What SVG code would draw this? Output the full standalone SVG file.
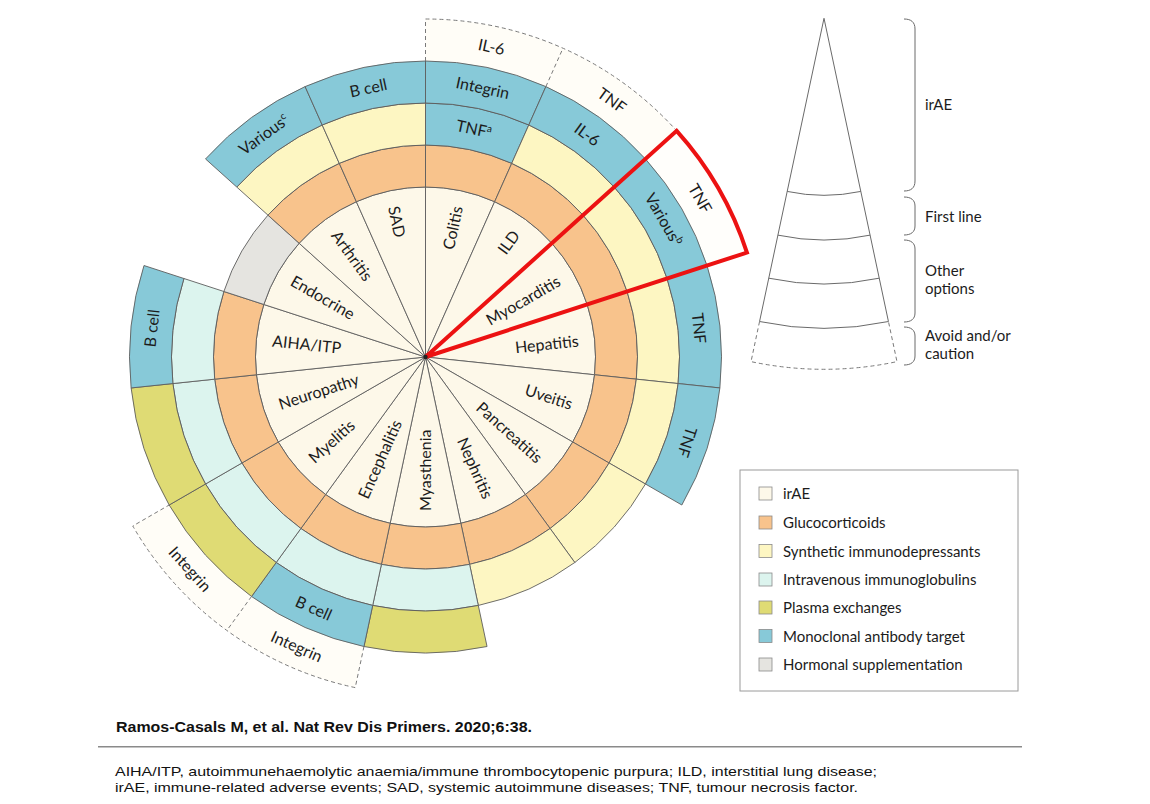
<svg xmlns="http://www.w3.org/2000/svg" width="1150" height="804" viewBox="0 0 1150 804">
<style>
.s{stroke:#5e5e5e;stroke-width:0.9;stroke-linejoin:round}
.cr{fill:#fdf8e9}.or{fill:#f8c38c}.ye{fill:#fdf6c2}.cy{fill:#dcf4ee}.ol{fill:#dfdb74}.bl{fill:#87c9d8}.gr{fill:#e5e4e0}
.df{fill:#fffdf7;stroke:none}
.dl{fill:none;stroke:#7a7a7a;stroke-width:1;stroke-dasharray:4 3}
.t{font-family:Lato,'Open Sans','Liberation Sans',sans-serif;font-size:16px;fill:#1c1c1c}
.m{text-anchor:middle}.e{text-anchor:end}
.lg{font-family:Lato,'Open Sans','Liberation Sans',sans-serif;font-size:15px;fill:#1c1c1c}
.sup{font-size:10px}
.ln{fill:none;stroke:#6a6a6a;stroke-width:1}
.ft{font-family:'Liberation Sans',Arial,sans-serif;fill:#111}
</style>
<rect width="1150" height="804" fill="#ffffff"/>

<g id="wheel">
<g id="colitis">
<path class="df" d="M425.5,61 L425.5,19 A338,338 0 0 1 562.98,48.22 L545.89,86.59 A296,296 0 0 0 425.5,61 Z"/>
<path class="s cr" d="M425.5,357 L425.5,187 A170,170 0 0 1 494.65,201.70 Z"/>
<path class="s or" d="M425.5,187 L425.5,145 A212,212 0 0 1 511.73,163.33 L494.65,201.70 A170,170 0 0 0 425.5,187 Z"/>
<path class="s bl" d="M425.5,145 L425.5,103 A254,254 0 0 1 528.81,124.96 L511.73,163.33 A212,212 0 0 0 425.5,145 Z"/>
<path class="s bl" d="M425.5,103 L425.5,61 A296,296 0 0 1 545.89,86.59 L528.81,124.96 A254,254 0 0 0 425.5,103 Z"/>
<text class="t e" transform="translate(457.52,206.36) rotate(-78)" dy="0.35em">Colitis</text>
<text class="t m" transform="translate(473.94,129.09) rotate(12)" dy="0.35em">TNF<tspan class="sup" dy="-6">a</tspan></text>
<text class="t m" transform="translate(482.68,88.01) rotate(12)" dy="0.35em">Integrin</text>
<text class="t m" transform="translate(491.41,46.93) rotate(12)" dy="0.35em">IL-6</text>
</g>
<g id="ild">
<path class="df" d="M545.89,86.59 L562.98,48.22 A338,338 0 0 1 676.68,130.83 L645.47,158.94 A296,296 0 0 0 545.89,86.59 Z"/>
<path class="s cr" d="M425.5,357 L494.65,201.70 A170,170 0 0 1 551.83,243.25 Z"/>
<path class="s or" d="M494.65,201.70 L511.73,163.33 A212,212 0 0 1 583.05,215.14 L551.83,243.25 A170,170 0 0 0 494.65,201.70 Z"/>
<path class="s ye" d="M511.73,163.33 L528.81,124.96 A254,254 0 0 1 614.26,187.04 L583.05,215.14 A212,212 0 0 0 511.73,163.33 Z"/>
<path class="s bl" d="M528.81,124.96 L545.89,86.59 A296,296 0 0 1 645.47,158.94 L614.26,187.04 A254,254 0 0 0 528.81,124.96 Z"/>
<text class="t e" transform="translate(516.02,232.41) rotate(-54)" dy="0.35em">ILD</text>
<text class="t m" transform="translate(587.14,134.52) rotate(36)" dy="0.35em">IL-6</text>
<text class="t m" transform="translate(611.83,100.54) rotate(36)" dy="0.35em">TNF</text>
</g>
<g id="myocarditis">
<path d="M645.47,158.94 L676.68,130.83 A338,338 0 0 1 746.96,252.55 L707.01,265.53 A296,296 0 0 0 645.47,158.94 Z" fill="#fffefb"/>
<path class="s cr" d="M425.5,357 L551.83,243.25 A170,170 0 0 1 587.18,304.47 Z"/>
<path class="s or" d="M551.83,243.25 L583.05,215.14 A212,212 0 0 1 627.12,291.49 L587.18,304.47 A170,170 0 0 0 551.83,243.25 Z"/>
<path class="s ye" d="M583.05,215.14 L614.26,187.04 A254,254 0 0 1 667.07,278.51 L627.12,291.49 A212,212 0 0 0 583.05,215.14 Z"/>
<path class="s bl" d="M614.26,187.04 L645.47,158.94 A296,296 0 0 1 707.01,265.53 L667.07,278.51 A254,254 0 0 0 614.26,187.04 Z"/>
<text class="t e" transform="translate(558.87,280) rotate(-30)" dy="0.35em">Myocarditis</text>
<text class="t m" transform="translate(663.66,219.5) rotate(60)" dy="0.35em">Various<tspan class="sup" dy="-6">b</tspan></text>
<text class="t m" transform="translate(700.03,198.5) rotate(60)" dy="0.35em">TNF</text>
</g>
<g id="hepatitis">
<path class="s cr" d="M425.5,357 L587.18,304.47 A170,170 0 0 1 594.57,374.77 Z"/>
<path class="s or" d="M587.18,304.47 L627.12,291.49 A212,212 0 0 1 636.34,379.16 L594.57,374.77 A170,170 0 0 0 587.18,304.47 Z"/>
<path class="s ye" d="M627.12,291.49 L667.07,278.51 A254,254 0 0 1 678.11,383.55 L636.34,379.16 A212,212 0 0 0 627.12,291.49 Z"/>
<path class="s bl" d="M667.07,278.51 L707.01,265.53 A296,296 0 0 1 719.88,387.94 L678.11,383.55 A254,254 0 0 0 667.07,278.51 Z"/>
<text class="t e" transform="translate(578.66,340.90) rotate(-6)" dy="0.35em">Hepatitis</text>
<text class="t m" transform="translate(698.99,328.25) rotate(84)" dy="0.35em">TNF</text>
</g>
<g id="uveitis">
<path class="s cr" d="M425.5,357 L594.57,374.77 A170,170 0 0 1 572.72,442 Z"/>
<path class="s or" d="M594.57,374.77 L636.34,379.16 A212,212 0 0 1 609.10,463 L572.72,442 A170,170 0 0 0 594.57,374.77 Z"/>
<path class="s ye" d="M636.34,379.16 L678.11,383.55 A254,254 0 0 1 645.47,484 L609.10,463 A212,212 0 0 0 636.34,379.16 Z"/>
<path class="s bl" d="M678.11,383.55 L719.88,387.94 A296,296 0 0 1 681.84,505 L645.47,484 A254,254 0 0 0 678.11,383.55 Z"/>
<text class="t e" transform="translate(571.96,404.59) rotate(18)" dy="0.35em">Uveitis</text>
<text class="t m" transform="translate(687.04,441.98) rotate(108)" dy="0.35em">TNF</text>
</g>
<g id="pancreatitis">
<path class="s cr" d="M425.5,357 L572.72,442 A170,170 0 0 1 525.42,494.53 Z"/>
<path class="s or" d="M572.72,442 L609.10,463 A212,212 0 0 1 550.11,528.51 L525.42,494.53 A170,170 0 0 0 572.72,442 Z"/>
<path class="s ye" d="M609.10,463 L645.47,484 A254,254 0 0 1 574.80,562.49 L550.11,528.51 A212,212 0 0 0 609.10,463 Z"/>
<text class="t e" transform="translate(539.94,460.05) rotate(42)" dy="0.35em">Pancreatitis</text>
</g>
<g id="nephritis">
<path class="s cr" d="M425.5,357 L525.42,494.53 A170,170 0 0 1 460.85,523.29 Z"/>
<path class="s or" d="M525.42,494.53 L550.11,528.51 A212,212 0 0 1 469.58,564.37 L460.85,523.29 A170,170 0 0 0 525.42,494.53 Z"/>
<path class="s ye" d="M550.11,528.51 L574.80,562.49 A254,254 0 0 1 478.31,605.45 L469.58,564.37 A212,212 0 0 0 550.11,528.51 Z"/>
<text class="t e" transform="translate(488.14,497.69) rotate(66)" dy="0.35em">Nephritis</text>
</g>
<g id="myasthenia">
<path class="s cr" d="M425.5,357 L460.85,523.29 A170,170 0 0 1 390.15,523.29 Z"/>
<path class="s or" d="M460.85,523.29 L469.58,564.37 A212,212 0 0 1 381.42,564.37 L390.15,523.29 A170,170 0 0 0 460.85,523.29 Z"/>
<path class="s cy" d="M469.58,564.37 L478.31,605.45 A254,254 0 0 1 372.69,605.45 L381.42,564.37 A212,212 0 0 0 469.58,564.37 Z"/>
<path class="s ol" d="M478.31,605.45 L487.04,646.53 A296,296 0 0 1 363.96,646.53 L372.69,605.45 A254,254 0 0 0 478.31,605.45 Z"/>
<text class="t" transform="translate(425.5,511) rotate(-90)" dy="0.35em">Myasthenia</text>
</g>
<g id="encephalitis">
<path class="df" d="M363.96,646.53 L355.23,687.61 A338,338 0 0 1 226.83,630.45 L251.52,596.47 A296,296 0 0 0 363.96,646.53 Z"/>
<path class="s cr" d="M425.5,357 L390.15,523.29 A170,170 0 0 1 325.58,494.53 Z"/>
<path class="s or" d="M390.15,523.29 L381.42,564.37 A212,212 0 0 1 300.89,528.51 L325.58,494.53 A170,170 0 0 0 390.15,523.29 Z"/>
<path class="s cy" d="M381.42,564.37 L372.69,605.45 A254,254 0 0 1 276.20,562.49 L300.89,528.51 A212,212 0 0 0 381.42,564.37 Z"/>
<path class="s bl" d="M372.69,605.45 L363.96,646.53 A296,296 0 0 1 251.52,596.47 L276.20,562.49 A254,254 0 0 0 372.69,605.45 Z"/>
<text class="t" transform="translate(362.86,497.69) rotate(-66)" dy="0.35em">Encephalitis</text>
<text class="t m" transform="translate(313.65,608.22) rotate(24)" dy="0.35em">B cell</text>
<text class="t m" transform="translate(296.56,646.59) rotate(24)" dy="0.35em">Integrin</text>
</g>
<g id="myelitis">
<path class="df" d="M251.52,596.47 L226.83,630.45 A338,338 0 0 1 132.78,526 L169.16,505 A296,296 0 0 0 251.52,596.47 Z"/>
<path class="s cr" d="M425.5,357 L325.58,494.53 A170,170 0 0 1 278.28,442 Z"/>
<path class="s or" d="M325.58,494.53 L300.89,528.51 A212,212 0 0 1 241.90,463 L278.28,442 A170,170 0 0 0 325.58,494.53 Z"/>
<path class="s cy" d="M300.89,528.51 L276.20,562.49 A254,254 0 0 1 205.53,484 L241.90,463 A212,212 0 0 0 300.89,528.51 Z"/>
<path class="s ol" d="M276.20,562.49 L251.52,596.47 A296,296 0 0 1 169.16,505 L205.53,484 A254,254 0 0 0 276.20,562.49 Z"/>
<text class="t" transform="translate(311.06,460.05) rotate(-42)" dy="0.35em">Myelitis</text>
<text class="t m" transform="translate(189.92,569.11) rotate(48)" dy="0.35em">Integrin</text>
</g>
<g id="neuropathy">
<path class="s cr" d="M425.5,357 L278.28,442 A170,170 0 0 1 256.43,374.77 Z"/>
<path class="s or" d="M278.28,442 L241.90,463 A212,212 0 0 1 214.66,379.16 L256.43,374.77 A170,170 0 0 0 278.28,442 Z"/>
<path class="s cy" d="M241.90,463 L205.53,484 A254,254 0 0 1 172.89,383.55 L214.66,379.16 A212,212 0 0 0 241.90,463 Z"/>
<path class="s ol" d="M205.53,484 L169.16,505 A296,296 0 0 1 131.12,387.94 L172.89,383.55 A254,254 0 0 0 205.53,484 Z"/>
<text class="t" transform="translate(279.04,404.59) rotate(-18)" dy="0.35em">Neuropathy</text>
</g>
<g id="aiha-itp">
<path class="s cr" d="M425.5,357 L256.43,374.77 A170,170 0 0 1 263.82,304.47 Z"/>
<path class="s or" d="M256.43,374.77 L214.66,379.16 A212,212 0 0 1 223.88,291.49 L263.82,304.47 A170,170 0 0 0 256.43,374.77 Z"/>
<path class="s cy" d="M214.66,379.16 L172.89,383.55 A254,254 0 0 1 183.93,278.51 L223.88,291.49 A212,212 0 0 0 214.66,379.16 Z"/>
<path class="s bl" d="M172.89,383.55 L131.12,387.94 A296,296 0 0 1 143.99,265.53 L183.93,278.51 A254,254 0 0 0 172.89,383.55 Z"/>
<text class="t" transform="translate(272.34,340.90) rotate(6)" dy="0.35em">AIHA/ITP</text>
<text class="t m" transform="translate(152.01,328.25) rotate(-84)" dy="0.35em">B cell</text>
</g>
<g id="endocrine">
<path class="s cr" d="M425.5,357 L263.82,304.47 A170,170 0 0 1 299.17,243.25 Z"/>
<path class="s gr" d="M263.82,304.47 L223.88,291.49 A212,212 0 0 1 267.95,215.14 L299.17,243.25 A170,170 0 0 0 263.82,304.47 Z"/>
<text class="t" transform="translate(292.13,280) rotate(30)" dy="0.35em">Endocrine</text>
</g>
<g id="arthritis">
<path class="s cr" d="M425.5,357 L299.17,243.25 A170,170 0 0 1 356.35,201.70 Z"/>
<path class="s or" d="M299.17,243.25 L267.95,215.14 A212,212 0 0 1 339.27,163.33 L356.35,201.70 A170,170 0 0 0 299.17,243.25 Z"/>
<path class="s ye" d="M267.95,215.14 L236.74,187.04 A254,254 0 0 1 322.19,124.96 L339.27,163.33 A212,212 0 0 0 267.95,215.14 Z"/>
<path class="s bl" d="M236.74,187.04 L205.53,158.94 A296,296 0 0 1 305.11,86.59 L322.19,124.96 A254,254 0 0 0 236.74,187.04 Z"/>
<text class="t" transform="translate(334.98,232.41) rotate(54)" dy="0.35em">Arthritis</text>
<text class="t m" transform="translate(263.86,134.52) rotate(-36)" dy="0.35em">Various<tspan class="sup" dy="-6">c</tspan></text>
</g>
<g id="sad">
<path class="s cr" d="M425.5,357 L356.35,201.70 A170,170 0 0 1 425.5,187 Z"/>
<path class="s or" d="M356.35,201.70 L339.27,163.33 A212,212 0 0 1 425.5,145 L425.5,187 A170,170 0 0 0 356.35,201.70 Z"/>
<path class="s ye" d="M339.27,163.33 L322.19,124.96 A254,254 0 0 1 425.5,103 L425.5,145 A212,212 0 0 0 339.27,163.33 Z"/>
<path class="s bl" d="M322.19,124.96 L305.11,86.59 A296,296 0 0 1 425.5,61 L425.5,103 A254,254 0 0 0 322.19,124.96 Z"/>
<text class="t" transform="translate(393.48,206.36) rotate(78)" dy="0.35em">SAD</text>
<text class="t m" transform="translate(368.32,88.01) rotate(-12)" dy="0.35em">B cell</text>
</g>
</g>

<g id="connectors">
<path class="dl" d="M425.5,61 L425.5,19 A338,338 0 0 1 676.68,130.83"/>
<path class="dl" d="M545.89,86.59 L562.98,48.22"/>
<path class="dl" d="M363.96,646.53 L355.23,687.61 A338,338 0 0 1 132.78,526 L169.16,505"/>
<path class="dl" d="M251.52,596.47 L226.83,630.45"/>
<path id="highlight" d="M425.5,357 L676.68,130.83 A338,338 0 0 1 746.96,252.55 Z" fill="none" stroke="#ec1212" stroke-width="4" stroke-linejoin="miter"/>
<circle cx="425.5" cy="357" r="2.2" fill="#222"/>
</g>

<g id="cone-key">
<path class="ln" d="M759.55,321.53 L824,18.3 L888.45,321.53"/>
<path class="ln" d="M787.20,191.43 A177,177 0 0 0 860.80,191.43"/>
<path class="ln" d="M777.91,235.15 A221.7,221.7 0 0 0 870.09,235.15"/>
<path class="ln" d="M768.76,278.19 A265.7,265.7 0 0 0 879.24,278.19"/>
<path class="ln" d="M759.55,321.53 A310,310 0 0 0 888.45,321.53"/>
<path class="dl" d="M759.55,321.53 L751.02,361.63 A351,351 0 0 0 896.98,361.63 L888.45,321.53"/>
<path class="ln" d="M904,19 C911,19 915,22 915,29 L915,181 C915,188 911,191 904,191"/>
<path class="ln" d="M904,197 C911,197 915,200 915,206 L915,226 C915,232 911,235 904,235"/>
<path class="ln" d="M904,240 C911,240 915,243 915,249 L915,313 C915,319 911,322 904,322"/>
<path class="ln" d="M904,327 C911,327 915,330 915,336 L915,356 C915,362 911,365 904,365"/>
<text class="lg" x="925" y="110">irAE</text>
<text class="lg" x="925" y="222">First line</text>
<text class="lg" x="925" y="276">Other</text>
<text class="lg" x="925" y="294">options</text>
<text class="lg" x="925" y="341">Avoid and/or</text>
<text class="lg" x="925" y="359">caution</text>
</g>

<g id="legend">
<rect x="740" y="470" width="278" height="221" fill="#fff" stroke="#9a9a9a" stroke-width="1"/>
<g stroke="#8a8a8a" stroke-width="0.8">
<rect x="759" y="487" width="13" height="13" class="cr"/>
<rect x="759" y="516" width="13" height="13" class="or"/>
<rect x="759" y="544.5" width="13" height="13" class="ye"/>
<rect x="759" y="573" width="13" height="13" class="cy"/>
<rect x="759" y="601" width="13" height="13" class="ol"/>
<rect x="759" y="629.5" width="13" height="13" class="bl"/>
<rect x="759" y="658" width="13" height="13" class="gr"/>
</g>
<text class="lg" x="783" y="499">irAE</text>
<text class="lg" x="783" y="528">Glucocorticoids</text>
<text class="lg" x="783" y="556.5">Synthetic immunodepressants</text>
<text class="lg" x="783" y="585">Intravenous immunoglobulins</text>
<text class="lg" x="783" y="613">Plasma exchanges</text>
<text class="lg" x="783" y="641.5">Monoclonal antibody target</text>
<text class="lg" x="783" y="670">Hormonal supplementation</text>
</g>

<g id="footer">
<text class="ft" x="116" y="732" font-size="14" font-weight="bold" textLength="416" lengthAdjust="spacingAndGlyphs">Ramos-Casals M, et al. Nat Rev Dis Primers. 2020;6:38.</text>
<line x1="98" y1="746.7" x2="1022" y2="746.7" stroke="#8a8a8a" stroke-width="1.5"/>
<text class="ft" x="115" y="775.5" font-size="13.5" textLength="762" lengthAdjust="spacingAndGlyphs">AIHA/ITP, autoimmunehaemolytic anaemia/immune thrombocytopenic purpura; ILD, interstitial lung disease;</text>
<text class="ft" x="115" y="791.5" font-size="13.5" textLength="743" lengthAdjust="spacingAndGlyphs">irAE, immune-related adverse events; SAD, systemic autoimmune diseases; TNF, tumour necrosis factor.</text>
</g>
</svg>
